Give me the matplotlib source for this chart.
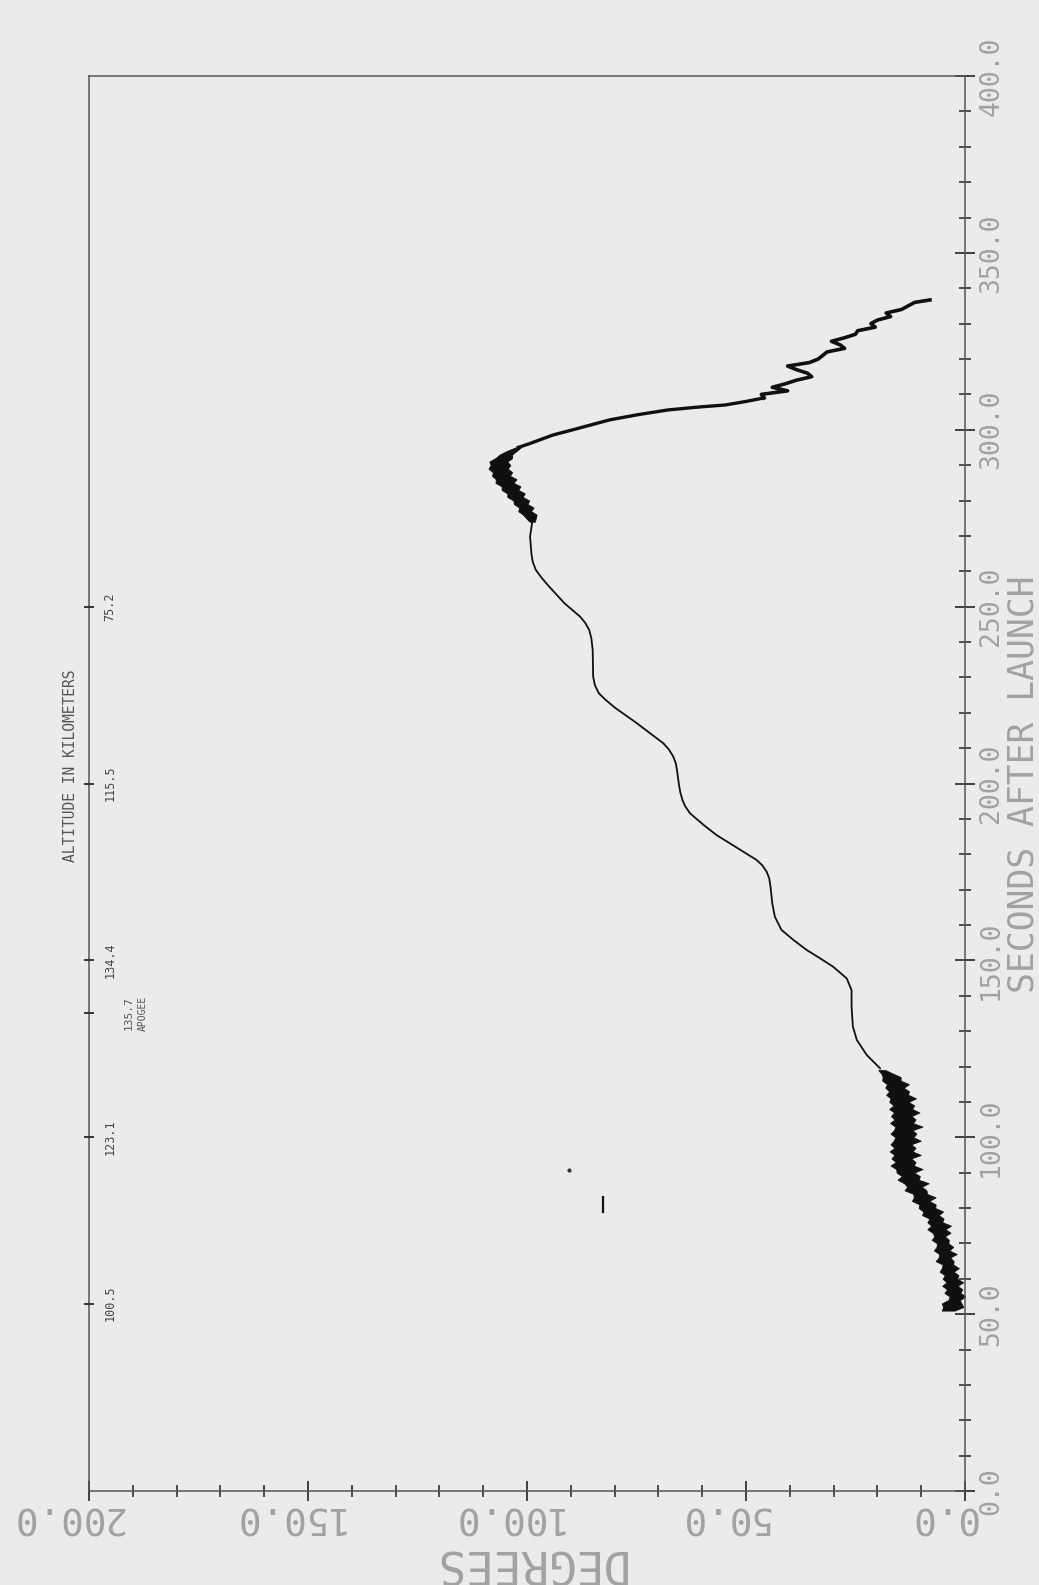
import matplotlib
matplotlib.use("Agg")
import matplotlib.pyplot as plt
import matplotlib.transforms as mtransforms
from matplotlib.ticker import MultipleLocator

# ---------------- data ----------------
# noisy early section: band centre and left/right half-widths (degrees), 1-s steps
early_sec = list(range(51, 120))
early_deg = [4.0, 3.2, 2.7, 2.4, 2.3, 2.4, 2.6, 2.8, 3.0, 3.2, 3.4, 3.6, 3.8, 4.0, 4.2,
             4.4, 4.6, 4.8, 5.0, 5.2, 5.4, 5.6, 5.8, 6.0, 6.2, 6.5, 6.9, 7.4, 7.9, 8.4,
             8.9, 9.4, 9.9, 10.4, 10.9, 11.4, 11.9, 12.4, 12.8, 13.2, 13.5, 13.7, 13.9,
             14.0, 14.1, 14.1, 14.1, 14.1, 14.0, 14.0, 14.0, 13.9, 13.9, 13.9, 13.9, 14.0,
             14.1, 14.2, 14.4, 14.6, 14.8, 15.0, 15.3, 15.6, 16.0, 16.5, 17.1, 17.8, 19.0]
early_hw_left = [1.6, 2.8, 1.9, 1.2, 2.5, 1.3, 2.0, 1.1, 2.6, 1.4,
                 1.9, 1.0, 2.4, 1.3, 1.6, 1.0, 2.7, 1.2, 2.3, 1.4,
                 1.7, 1.0, 2.5, 1.5, 3.0, 1.3, 2.0, 1.4, 2.9, 1.6,
                 2.2, 1.2, 3.2, 1.7, 2.1, 1.5, 3.6, 1.8, 2.5, 1.6,
                 3.8, 2.0, 2.6, 1.7, 4.0, 2.1, 2.8, 1.8, 3.9, 2.2,
                 2.9, 1.9, 4.2, 2.0, 2.6, 1.8, 3.7, 2.1, 2.8, 1.7,
                 3.6, 2.0, 2.5, 1.6, 3.2, 1.8, 2.4, 1.3, 0.8]
early_hw_right = [1.3, 1.8, 2.6, 1.4, 1.2, 2.3, 1.5, 2.4, 1.2, 1.9,
                  1.2, 2.2, 1.5, 1.1, 2.5, 1.6, 1.3, 2.3, 1.5, 1.2,
                  2.2, 1.4, 1.6, 2.6, 1.5, 2.1, 1.2, 2.4, 1.6, 2.2,
                  1.5, 2.7, 1.8, 1.4, 2.9, 1.8, 2.0, 3.0, 1.6, 2.4,
                  2.2, 3.3, 1.9, 2.8, 2.0, 3.1, 2.0, 2.9, 2.3, 1.9,
                  3.0, 2.3, 2.0, 3.2, 2.2, 2.9, 2.1, 3.1, 1.9, 2.7,
                  2.2, 3.0, 2.0, 2.6, 1.8, 2.4, 1.7, 1.3, 0.8]

# smooth oscillating section
smooth_sec = [119.5, 123.2, 127.5, 131.3, 136.9, 141.6, 144.9, 148.2, 150.6, 152.9,
              155.8, 158.6, 162.3, 166.1, 170.8, 173.2, 175.1, 176.9, 178.4, 180.7,
              183.1, 185.4, 188.3, 191.6, 193.6, 195.3, 197.5, 199.6, 203.3, 205.6,
              207.6, 209.6, 211.4, 214.2, 217.3, 221.5, 223.7, 225.5, 227.8, 230.2,
              237.7, 241.0, 243.4, 245.4, 247.2, 250.9, 255.6, 258.2, 260.4, 262.7,
              265.1, 269.8, 274.0]
smooth_deg = [19.4, 22.4, 24.7, 25.6, 25.9, 25.9, 27.0, 30.1, 33.1, 36.1,
              39.2, 41.9, 43.4, 44.0, 44.4, 44.7, 45.3, 46.3, 47.6, 50.6,
              53.7, 56.7, 59.7, 62.8, 63.9, 64.5, 65.0, 65.3, 65.7, 66.0,
              66.6, 67.6, 68.9, 71.9, 75.2, 80.0, 82.1, 83.6, 84.5, 84.9,
              85.0, 85.3, 85.8, 86.7, 87.9, 91.4, 94.9, 96.7, 98.0, 98.7,
              99.0, 99.3, 98.8]

# noisy section around the maximum
peak_sec = list(range(274, 296))
peak_deg = [98.8, 99.2, 99.6, 100.1, 100.6, 101.2, 101.8, 102.4, 103.0, 103.6, 104.2,
            104.8, 105.3, 105.7, 106.1, 106.3, 106.4, 106.2, 105.6, 104.8, 103.6, 102.0]
peak_hw_left = [0.6, 1.2, 1.8, 1.0, 2.1, 1.3, 2.3, 1.4, 2.5, 1.6, 2.7, 1.7, 2.9, 1.8,
                2.7, 1.9, 2.6, 1.7, 2.2, 1.4, 1.2, 0.6]
peak_hw_right = [0.6, 1.0, 1.3, 1.9, 1.2, 1.8, 1.3, 2.1, 1.5, 2.2, 1.6, 2.4, 1.8, 2.3,
                 1.7, 2.5, 1.9, 2.4, 1.6, 1.4, 1.0, 0.6]

fall_sec = [295, 296, 298.5, 300.5, 302.8, 304.3, 305.6, 306.4, 307.0, 308.0, 309.0]
fall_deg = [102.0, 99.6, 94.1, 88.0, 81.1, 74.5, 67.8, 61.0, 54.8, 50.0, 45.9]

tail_sec = [309, 310, 311, 312, 313, 314, 315, 316, 317, 318, 319, 320, 321, 322, 323,
            324, 325, 326, 327, 328, 329, 330, 331, 332, 333, 334, 335, 336, 336.7]
tail_deg = [45.9, 46.5, 40.5, 44.0, 41.0, 38.5, 35.0, 36.0, 38.5, 40.5, 35.5, 33.5, 32.5,
            31.5, 27.5, 28.5, 30.5, 27.5, 25.0, 24.5, 20.5, 21.5, 20.0, 17.0, 18.0, 14.5,
            13.0, 11.5, 8.0]

stray_sec = [79.0, 83.0]
stray_deg = [82.7, 82.7]
dot_sec = [90.7]
dot_deg = [90.4]

sec_ticks = [0, 50, 100, 150, 200, 250, 300, 350, 400]
sec_labels = ["0.0", "50.0", "100.0", "150.0", "200.0", "250.0", "300.0", "350.0", "400.0"]
deg_ticks = [0, 50, 100, 150, 200]
deg_labels = ["0.0", "50.0", "100.0", "150.0", "200.0"]

alt_sec = [53, 100, 150, 200, 250]
alt_labels = ["100.5", "123.1", "134.4", "115.5", "75.2"]
apogee_sec = 135
apogee_label = "135.7"

# ---------------- figure ----------------
W, H = 1039, 1585
paper = "#ebebeb"
fig = plt.figure(figsize=(W / 100, H / 100), dpi=100, facecolor=paper)
L, R, T, B = 89, 965, 76, 1491
ax = fig.add_axes([L / W, 1 - B / H, (R - L) / W, (B - T) / H])
ax.set_facecolor(paper)
ax.set_xlim(200, 0)
ax.set_ylim(0, 400)

mono = "DejaVu Sans Mono"
lab_col = "#a2a2a2"
ink = "#101010"

# curve
lo = [c - h for c, h in zip(early_deg, early_hw_left)]
hi = [c + h for c, h in zip(early_deg, early_hw_right)]
ax.fill_betweenx(early_sec, lo, hi, color=ink, lw=0.6, edgecolor=ink)
ax.plot(smooth_deg, smooth_sec, color=ink, lw=1.3)
lo = [c - h for c, h in zip(peak_deg, peak_hw_left)]
hi = [c + h for c, h in zip(peak_deg, peak_hw_right)]
ax.fill_betweenx(peak_sec, lo, hi, color=ink, lw=0.6, edgecolor=ink)
ax.plot(fall_deg, fall_sec, color=ink, lw=2.4)
ax.plot(tail_deg, tail_sec, color=ink, lw=2.6)
ax.plot(stray_deg, stray_sec, color=ink, lw=1.6)
ax.plot(dot_deg, dot_sec, "o", color="#333333", ms=2)

# spines
for sp in ax.spines.values():
    sp.set_color("#555555")
    sp.set_linewidth(1.1)

# bottom (degrees) axis
ax.set_xticks(deg_ticks, deg_labels)
ax.xaxis.set_minor_locator(MultipleLocator(10))
# right (seconds) axis
ax.yaxis.tick_right()
ax.set_yticks(sec_ticks, sec_labels)
ax.yaxis.set_minor_locator(MultipleLocator(10))

ax.tick_params(which="major", direction="inout", length=15, width=1.3, colors="#333333")
ax.tick_params(which="minor", direction="inout", length=9, width=1.2, colors="#333333")
ax.tick_params(axis="x", which="major", labelrotation=180, pad=-2, labelsize=27,
               labelcolor=lab_col)
ax.tick_params(axis="y", which="major", labelrotation=90, pad=2, labelsize=19,
               labelcolor=lab_col)
shift = mtransforms.ScaledTranslation(-22 / 100, 0, fig.dpi_scale_trans)
for t in ax.get_xticklabels():
    t.set_fontfamily(mono)
    t.set_transform(t.get_transform() + shift)
for t in ax.get_yticklabels():
    t.set_fontfamily(mono)
    t.set_va("center")

# left (altitude) axis marks and labels
ytr = ax.get_yaxis_transform()
ax.scatter([0] * len(alt_sec), alt_sec, marker="_", s=60, color="#333333",
           linewidths=1.4, transform=ytr, clip_on=False, zorder=3)
ax.scatter([0], [apogee_sec], marker="_", s=60, color="#333333",
           linewidths=1.4, transform=ytr, clip_on=False, zorder=3)
for s, lab in zip(alt_sec, alt_labels):
    ax.text(0.024, s, lab, transform=ytr, rotation=90, ha="center", va="center",
            fontsize=8.5, family=mono, color="#444444")
ax.text(0.045, apogee_sec, apogee_label, transform=ytr, rotation=90, ha="center",
        va="center", fontsize=8, family=mono, color="#555555")
ax.text(0.062, apogee_sec, "APOGEE", transform=ytr, rotation=90, ha="center",
        va="center", fontsize=7, family=mono, color="#555555")
ax.text(-0.021, 205, "ALTITUDE IN KILOMETERS", transform=ytr, rotation=90,
        ha="center", va="center", fontsize=10.5, family=mono, color="#555555",
        clip_on=False)

# axis titles
fig.text(1024 / W, 1 - 784 / H, "SECONDS AFTER LAUNCH", rotation=90, ha="center",
         va="center", fontsize=25, family=mono, color=lab_col)
fig.text(528 / W, 1 - 1562 / H, "DEGREES", rotation=180, ha="center", va="center",
         fontsize=33, family=mono, color=lab_col)

fig.savefig("out.png", dpi=100, facecolor=fig.get_facecolor())
